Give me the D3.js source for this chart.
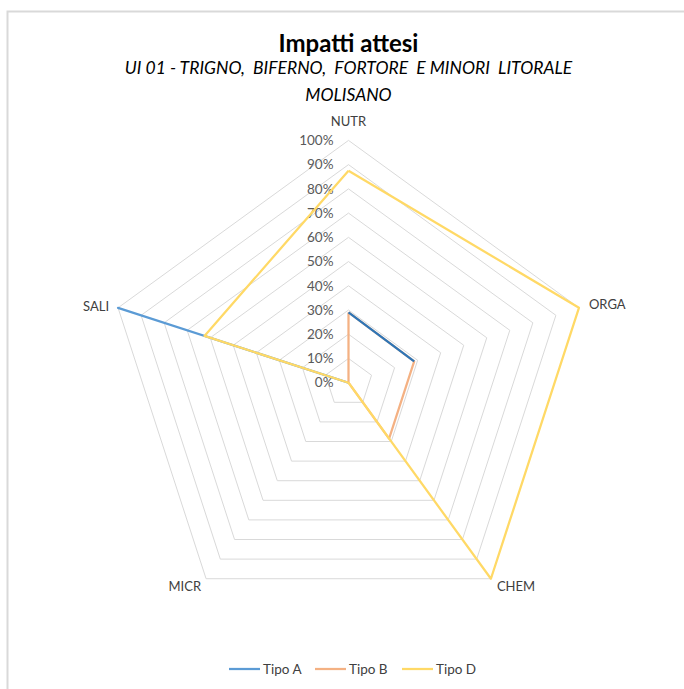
<!DOCTYPE html>
<html>
<head>
<meta charset="utf-8">
<script src="https://cdn.jsdelivr.net/npm/d3@7"></script>
<style>
  html, body { margin: 0; padding: 0; background: #ffffff; }
  svg { display: block; }
</style>
</head>
<body>
<svg id="chart" width="684" height="689"></svg>
<script>
// ---- data ----
const axes = ["NUTR", "ORGA", "CHEM", "MICR", "SALI"];
const tickValues = [0, 0.1, 0.2, 0.3, 0.4, 0.5, 0.6, 0.7, 0.8, 0.9, 1.0];
const tipoA = [0, 0, 0, 0, 1.0];
const tipoB = [0.29, 0.285, 0.285, 0, 0];
const tipoC = [0.29, 0.285, null, null, null];   // series with legend entry removed
const tipoD = [0.875, 1.0, 1.0, 0, 0.625];
const seriesNames = ["Tipo A", "Tipo B", "Tipo C", "Tipo D"];
const legendNames = ["Tipo A", "Tipo B", "Tipo D"];
const titleText = "Impatti attesi";
const subtitleLines = ["UI 01 - TRIGNO,  BIFERNO,  FORTORE  E MINORI  LITORALE", "MOLISANO"];

// ---- layout / style ----
const colors = { "Tipo A": "#5B9BD5", "Tipo B": "#F4B183", "Tipo C": "#2E75B6", "Tipo D": "#FFD966" };
const font = "Lato, 'Open Sans', sans-serif";
const cx = 348.5, cy = 382.7, R = 242.3;

const svg = d3.select("#chart");

// chart area border
svg.append("rect")
  .attr("x", 7.5).attr("y", 11.5)
  .attr("width", 700).attr("height", 700)
  .attr("fill", "#ffffff")
  .attr("stroke", "#d9d9d9").attr("stroke-width", 2);

const r = d3.scaleLinear().domain([0, 1]).range([0, R]);
const angle = d3.scalePoint().domain(axes).range([0, 2 * Math.PI * (axes.length - 1) / axes.length]);
const pt = (a, v) => {
  const t = angle(a) - Math.PI / 2;
  return [cx + r(v) * Math.cos(t), cy + r(v) * Math.sin(t)];
};

const g = svg.append("g");

// grid rings
const ringLine = d3.line();
tickValues.filter(v => v > 0).forEach(v => {
  const pts = axes.map(a => pt(a, v));
  g.append("path")
    .attr("d", ringLine(pts) + "Z")
    .attr("fill", "none")
    .attr("stroke", "#d9d9d9")
    .attr("stroke-width", 1);
});

// tick labels
g.selectAll("text.tick").data(tickValues).join("text")
  .attr("class", "tick")
  .attr("x", cx - 15)
  .attr("y", d => cy - r(d))
  .attr("dy", "0.35em")
  .attr("text-anchor", "end")
  .attr("font-family", font)
  .attr("font-size", 13.5)
  .attr("fill", "#595959")
  .text(d3.format(".0%"));

// axis labels
const labelOffsets = {
  NUTR: { dx: 0, dy: -19, anchor: "middle" },
  ORGA: { dx: 10, dy: -3, anchor: "start" },
  CHEM: { dx: 6, dy: 8, anchor: "start" },
  MICR: { dx: -5, dy: 8, anchor: "end" },
  SALI: { dx: -9, dy: -1, anchor: "end" }
};
axes.forEach(a => {
  const p = pt(a, 1);
  const o = labelOffsets[a];
  g.append("text")
    .attr("x", p[0] + o.dx)
    .attr("y", p[1] + o.dy)
    .attr("dy", "0.35em")
    .attr("text-anchor", o.anchor)
    .attr("font-family", font)
    .attr("font-size", 13)
    .attr("fill", "#404040")
    .text(a);
});

// series
const seriesData = [tipoA, tipoB, tipoC, tipoD];
const radarLine = d3.line()
  .defined(d => d.v !== null)
  .x(d => pt(d.a, d.v)[0])
  .y(d => pt(d.a, d.v)[1]);
seriesData.forEach((vals, i) => {
  const pts = axes.map((a, j) => ({ a, v: vals[j] }));
  pts.push(pts[0]); // close polygon
  g.append("path")
    .attr("d", radarLine(pts))
    .attr("fill", "none")
    .attr("stroke", colors[seriesNames[i]])
    .attr("stroke-width", 2.25)
    .attr("stroke-linejoin", "round");
});

// title
svg.append("text")
  .attr("x", cx).attr("y", 52)
  .attr("text-anchor", "middle")
  .attr("font-family", font)
  .attr("font-size", 24)
  .attr("font-weight", "bold")
  .attr("fill", "#000000")
  .text(titleText);
subtitleLines.forEach((t, i) => {
  svg.append("text")
    .attr("x", cx).attr("y", 74 + i * 27)
    .attr("text-anchor", "middle")
    .attr("font-family", font)
    .attr("font-size", 17.5)
    .attr("font-style", "italic")
    .attr("fill", "#000000")
    .style("white-space", "pre")
    .attr("xml:space", "preserve")
    .text(t);
});

// legend
const legendX = [229, 315, 402];
legendNames.forEach((n, i) => {
  const lg = svg.append("g").attr("transform", `translate(${legendX[i]},669)`);
  lg.append("line")
    .attr("x1", 0).attr("x2", 31).attr("y1", 0).attr("y2", 0)
    .attr("stroke", colors[n]).attr("stroke-width", 2.25);
  lg.append("text")
    .attr("x", 34).attr("y", 0).attr("dy", "0.35em")
    .attr("font-family", font)
    .attr("font-size", 13.5)
    .attr("fill", "#404040")
    .text(n);
});
</script>
</body>
</html>
